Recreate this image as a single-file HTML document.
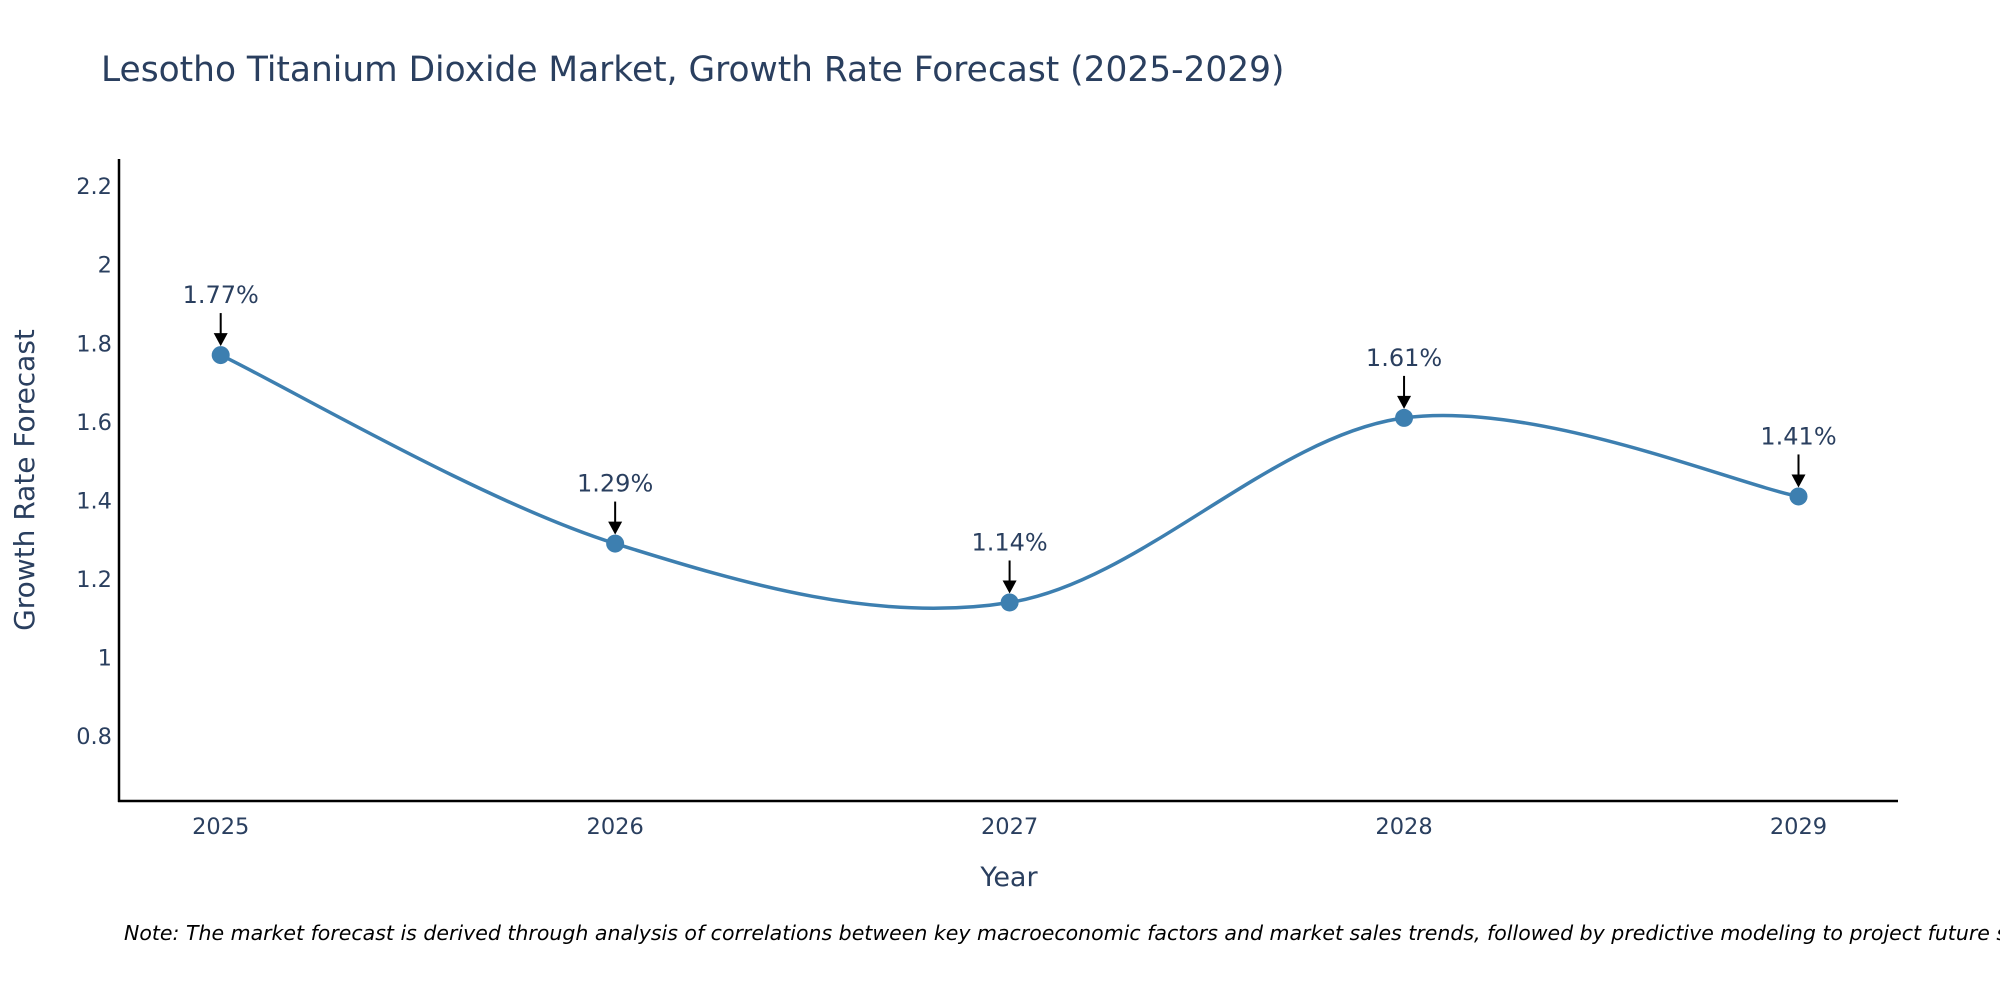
<!DOCTYPE html>
<html><head><meta charset="utf-8"><style>
html,body{margin:0;padding:0;background:#fff;}
svg{display:block;font-family:"DejaVu Sans","Liberation Sans",sans-serif;}
</style></head><body>
<svg id="chart" width="2000" height="1000">
<text x="101" y="81" font-size="34.4" fill="#2a3f5f">Lesotho Titanium Dioxide Market, Growth Rate Forecast (2025-2029)</text>
<g id="yticks"></g>
<g id="xticks"></g>
<line x1="119" y1="159" x2="119" y2="802" stroke="#000" stroke-width="2.5"/>
<line x1="118" y1="801" x2="1898" y2="801" stroke="#000" stroke-width="2.5"/>
<path id="line" fill="none" stroke="#3d7fb0" stroke-width="3.5"/>
<g id="points"></g>
<g id="annots"></g>
<text x="1009" y="886" font-size="27" fill="#2a3f5f" text-anchor="middle">Year</text>
<text transform="translate(34,480) rotate(-90)" font-size="28" fill="#2a3f5f" text-anchor="middle">Growth Rate Forecast</text>
<text x="124" y="940" font-size="20.5" font-style="italic" fill="#000">Note: The market forecast is derived through analysis of correlations between key macroeconomic factors and market sales trends, followed by predictive modeling to project future sales.</text>
</svg>
<script>
const years = ["2025","2026","2027","2028","2029"];
const values = [1.77, 1.29, 1.14, 1.61, 1.41];
const labels = ["1.77%","1.29%","1.14%","1.61%","1.41%"];
const yTicks = [0.8, 1, 1.2, 1.4, 1.6, 1.8, 2, 2.2];
const NS = "http://www.w3.org/2000/svg";
function xs(i){ return 220.7 + i*(1798.5-220.7)/4; }
function ys(v){ return 736 - (v-0.8)/1.4*549.8; }
function mk(tag, attrs, parent){ const e=document.createElementNS(NS,tag); for(const k in attrs) e.setAttribute(k,attrs[k]); parent.appendChild(e); return e; }
const yt=document.getElementById('yticks');
yTicks.forEach(v=>{
  const t=mk('text',{x:112,y:ys(v)+8,'font-size':22.5,fill:'#2a3f5f','text-anchor':'end'},yt);
  t.textContent=String(v);
  
  
});
const xt=document.getElementById('xticks');
years.forEach((y,i)=>{
  const t=mk('text',{x:xs(i),y:834,'font-size':22.5,fill:'#2a3f5f','text-anchor':'middle'},xt);
  t.textContent=y;
  
  
});
const P=values.map((v,i)=>[xs(i),ys(v)]);
let d="M"+P[0][0]+","+P[0][1];
for(let i=0;i<P.length-1;i++){
  const p0=P[Math.max(i-1,0)],p1=P[i],p2=P[i+1],p3=P[Math.min(i+2,P.length-1)];
  const c1=[p1[0]+(p2[0]-p0[0])/6,p1[1]+(p2[1]-p0[1])/6];
  const c2=[p2[0]-(p3[0]-p1[0])/6,p2[1]-(p3[1]-p1[1])/6];
  d+=" C"+c1+" "+c2+" "+p2;
}
document.getElementById('line').setAttribute('d',d);
const pts=document.getElementById('points'), an=document.getElementById('annots');
P.forEach((p,i)=>{
  const c=mk('circle',{cx:p[0],cy:p[1],r:9,fill:'#3d7fb0'},pts);
  
  
  const l=mk('line',{x1:p[0],y1:p[1]-42,x2:p[0],y2:p[1]-20,stroke:'#000','stroke-width':2},an);
  
  
  const h=mk('polygon',{points:`${p[0]-7},${p[1]-22} ${p[0]+7},${p[1]-22} ${p[0]},${p[1]-9}`,fill:'#000'},an);
  
  
  const t=mk('text',{x:p[0],y:p[1]-52,'font-size':24,fill:'#2a3f5f','text-anchor':'middle'},an);
  t.textContent=labels[i];
  
  
});
</script>
</body></html>
